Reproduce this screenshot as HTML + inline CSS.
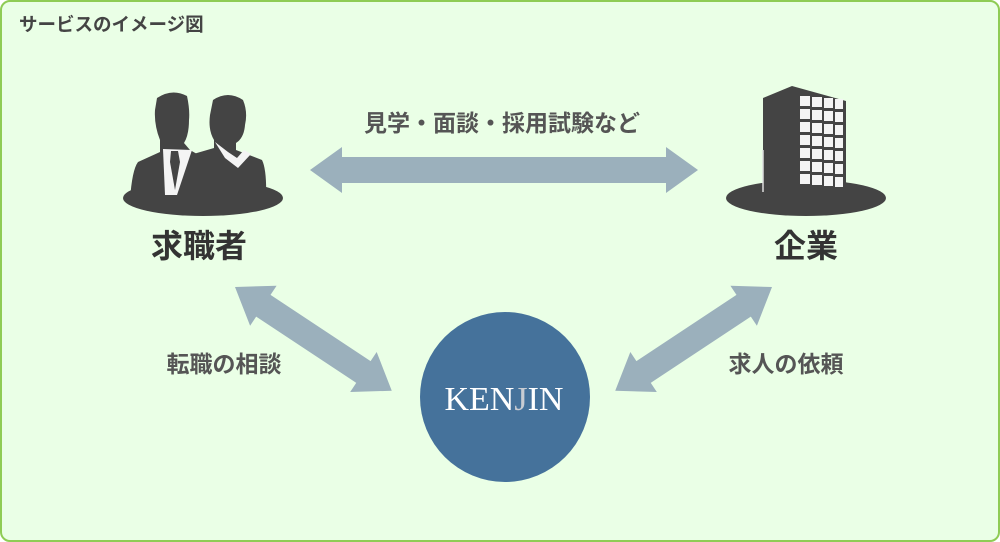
<!DOCTYPE html>
<html><head><meta charset="utf-8"><style>
html,body{margin:0;padding:0;background:#fff;}
.wrap{position:relative;width:1000px;height:542px;overflow:hidden;}
</style></head><body><div class="wrap">
<svg width="1000" height="542" xmlns="http://www.w3.org/2000/svg">
<rect x="1" y="1" width="998" height="540" rx="9" fill="#eaffe6" stroke="#8fcc55" stroke-width="2"/>
<text x="19" y="31" font-family="Liberation Sans, Noto Sans CJK JP, sans-serif" font-size="18.5" font-weight="bold" fill="#444">サービスのイメージ図</text>

<g fill="#9bb0bc">
<polygon points="310,170 342,147 342,157 666,157 666,147 698,170 666,193 666,183 342,183 342,193"/>
<g transform="translate(235,287) rotate(33.5)">
<polygon points="0,0 34,-24 34,-13 154,-13 154,-24 188,0 154,24 154,13 34,13 34,24"/>
</g>
<g transform="translate(772,287) rotate(146.5)">
<polygon points="0,0 34,-24 34,-13 154,-13 154,-24 188,0 154,24 154,13 34,13 34,24"/>
</g>
</g>

<g fill="#444">
<ellipse cx="203" cy="198" rx="80" ry="18"/>
<path d="M213,100 Q228,90 243,100 Q248,112 245,125 Q244,138 236,143 L236,150 L262,160 Q267,170 266,200 L190,200 L190,155 L214,148 L214,140 Q208,130 210,115 Z"/>
<path d="M157,98 Q172,88 187,96 Q190,110 189,120 Q189,135 184,143 L190,150 L204,158 L210,200 L130,200 Q132,170 138,162 L160,152 L160,140 Q154,125 155,110 Z"/>
</g>
<polygon points="163,149 192,150 177,195 165,195" fill="#f4f4f4"/>
<polygon points="171,151 178,151 180,162 175,190 170,162" fill="#444"/>
<polygon points="215,142 228,152 237,158 244,150 251,154 238,168 225,158" fill="#f4f4f4"/>

<g fill="#444">
<ellipse cx="806" cy="198" rx="80" ry="18"/>
<polygon points="763,98 792,86 846,101 846,192 763,192"/>
</g>
<line x1="763" y1="150" x2="763" y2="192" stroke="#ddd" stroke-width="1.5"/>
<g fill="#f4f4f4">
<g id="row">
<rect x="800" y="96" width="10" height="10"/><rect x="812" y="97" width="10" height="10"/><rect x="824" y="98" width="9" height="10"/><rect x="835" y="99" width="8" height="10"/>
</g>
<use href="#row" y="13"/><use href="#row" y="26"/><use href="#row" y="39"/><use href="#row" y="52"/><use href="#row" y="65"/><use href="#row" y="78"/>
</g>

<circle cx="505" cy="397" r="85" fill="#45729b"/>
<text x="504" y="410" text-anchor="middle" font-family="Liberation Serif, serif" font-size="34" fill="#fff">KEN<tspan fill="#c8ccd2">J</tspan>IN</text>

<g font-family="Liberation Sans, Noto Sans CJK JP, sans-serif" font-weight="bold">
<text x="502" y="131" text-anchor="middle" font-size="23" fill="#555">見学・面談・採用試験など</text>
<text x="199" y="257" text-anchor="middle" font-size="32" fill="#333">求職者</text>
<text x="806" y="257" text-anchor="middle" font-size="32" fill="#333">企業</text>
<text x="224" y="372" text-anchor="middle" font-size="23" fill="#555">転職の相談</text>
<text x="786" y="372" text-anchor="middle" font-size="23" fill="#555">求人の依頼</text>
</g>
</svg>
</div></body></html>
